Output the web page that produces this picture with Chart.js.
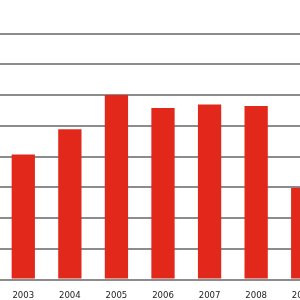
<!DOCTYPE html>
<html>
<head>
<meta charset="utf-8">
<script src="https://cdn.jsdelivr.net/npm/chart.js@4/dist/chart.umd.min.js"></script>
<style>
    html, body { margin: 0; padding: 0; background: #fff; overflow: hidden; }
    #wrap { width: 326px; height: 300px; }
</style>
</head>
<body>
<div id="wrap"><canvas id="barChart"></canvas></div>
<script>
    // 年份
    const years = ['2003', '2004', '2005', '2006', '2007', '2008', '2009'];
    // 數值
    const values = [4.07, 4.89, 6.01, 5.58, 5.70, 5.65, 2.99];
    // 格線刻度
    const gridTicks = [0, 1, 2, 3, 4, 5, 6, 7, 8];

    const barData = {
        labels: years,
        datasets: [
            {
                data: values,
                backgroundColor: '#e1281b',
                borderWidth: 0,
                barPercentage: 0.5,
                categoryPercentage: 1
            }
        ]
    };

    const barOptions = {
        responsive: true,
        maintainAspectRatio: false,
        animation: false,
        layout: { padding: 0 },
        plugins: {
            legend: { display: false },
            tooltip: { enabled: false }
        },
        scales: {
            x: {
                grid: { display: false },
                border: { display: false },
                ticks: {
                    color: '#222',
                    padding: 2,
                    font: { family: 'DejaVu Sans Condensed', size: 9.5 }
                },
                afterFit: function (scale) { scale.height = 20.5; }
            },
            y: {
                min: 0,
                max: 9.1,
                afterBuildTicks: function (scale) {
                    scale.ticks = gridTicks.map(v => ({ value: v }));
                },
                grid: {
                    color: '#8c8c8c',
                    lineWidth: 2,
                    drawTicks: false
                },
                border: { display: false },
                ticks: { display: false },
                afterFit: function (scale) { scale.width = 0; }
            }
        }
    };

    const barChart = new Chart(
        document.getElementById('barChart'),
        { type: 'bar', data: barData, options: barOptions }
    );
</script>
</body>
</html>
